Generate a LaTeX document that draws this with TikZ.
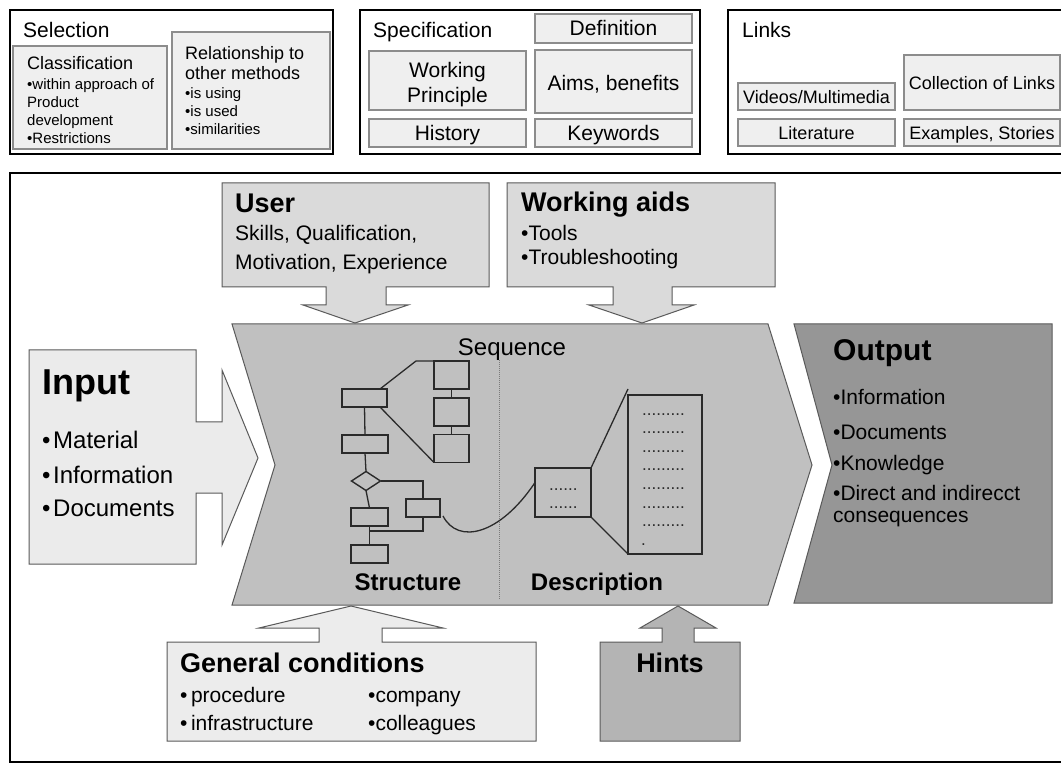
\documentclass[tikz,border=0pt]{standalone}
\usepackage{fontspec}
\setmainfont{Liberation Sans}
\usetikzlibrary{calc,shapes.geometric}
\definecolor{tbfill}{HTML}{EFEFEF}
\definecolor{tbdraw}{HTML}{8C8C8C}
\definecolor{uwfill}{HTML}{DADADA}
\definecolor{chfill}{HTML}{C0C0C0}
\definecolor{outfill}{HTML}{969696}
\definecolor{infill}{HTML}{EBEBEB}
\definecolor{gcfill}{HTML}{ECECEC}
\definecolor{hifill}{HTML}{B4B4B4}
\definecolor{shdraw}{HTML}{5A5A5A}
\definecolor{fcdraw}{HTML}{2A2A2A}
\definecolor{dotgray}{HTML}{7A7A7A}
\newcommand{\fs}[2]{\fontsize{#1}{#2}\selectfont}
\begin{document}
\begin{tikzpicture}[x=1pt,y=-1pt,
  frame/.style={draw=black,line width=2.4pt},
  tbox/.style={draw=tbdraw,fill=tbfill,line width=1.1pt},
  shp/.style={draw=shdraw,line width=1pt,line join=miter},
  fcb/.style={draw=fcdraw,line width=1.4pt,inner sep=0pt,outer sep=0pt},
  fcl/.style={draw=fcdraw,line width=1.3pt},
  lw/.style={inner sep=0pt,anchor=base west},
  lc/.style={inner sep=0pt,anchor=base},
  dots/.style={inner sep=0pt,anchor=base west,font=\fs{17}{18},text=fcdraw}
]
\useasboundingbox (0,0) rectangle (1061,767);
\fill[white] (0,0) rectangle (1061,767);

% ---------------- top frames ----------------
\draw[frame] (10,10) rectangle (333,154);
\draw[frame] (360,10) rectangle (700,154);
\draw[frame] (1064,10) -- (728,10) -- (728,154) -- (1064,154);

% Selection
\node[lw,font=\fs{21}{24}] (tsel) at (23,37.5) {Selection};
\draw[tbox] (13,46) rectangle (167,149);
\draw[tbox] (172,32) rectangle (330,149);
\node[lw,font=\fs{18}{20}] (tcla) at (27,69.5) {Classification};
\node[lw,font=\fs{15}{17}] (tc1) at (27,89.4) {•within approach of};
\node[lw,font=\fs{15}{17}] (tc2) at (27,107.4) {Product};
\node[lw,font=\fs{15}{17}] (tc3) at (27,125.4) {development};
\node[lw,font=\fs{15}{17}] (tc4) at (27,143.4) {•Restrictions};
\node[lw,font=\fs{18}{20}] (trel1) at (185,59.5) {Relationship to};
\node[lw,font=\fs{18}{20}] (trel2) at (185,79.5) {other methods};
\node[lw,font=\fs{15}{17}] (tr1) at (185,98.4) {•is using};
\node[lw,font=\fs{15}{17}] (tr2) at (185,116.4) {•is used};
\node[lw,font=\fs{15}{17}] (tr3) at (185,134.4) {•similarities};

% Specification
\node[lw,font=\fs{21}{24}] (tspec) at (373,37.5) {Specification};
\draw[tbox] (535,14) rectangle (692,43);
\draw[tbox] (369,51) rectangle (526,110);
\draw[tbox] (535,50) rectangle (692,113);
\draw[tbox] (369,119) rectangle (526,147);
\draw[tbox] (535,119) rectangle (692,147);
\node[lc,font=\fs{21}{24}] (tdef) at (613.5,36) {Definition};
\node[lc,font=\fs{21}{24}] (twp1) at (447.5,77.5) {Working};
\node[lc,font=\fs{21}{24}] (twp2) at (447.5,102.5) {Principle};
\node[lc,font=\fs{21}{24}] (taim) at (613.5,90.5) {Aims, benefits};
\node[lc,font=\fs{21}{24}] (this) at (447.5,140.5) {History};
\node[lc,font=\fs{21}{24}] (tkey) at (613.5,140.5) {Keywords};

% Links
\node[lw,font=\fs{21}{24}] (tlinks) at (742,37.5) {Links};
\draw[tbox] (738,83) rectangle (895,110);
\draw[tbox] (904,55) rectangle (1060,110);
\draw[tbox] (738,119) rectangle (895,146);
\draw[tbox] (904,119) rectangle (1060,146);
\node[lc,font=\fs{18}{20}] (tvid) at (816.5,103.5) {Videos/Multimedia};
\node[lc,font=\fs{18}{20}] (tcol) at (982,89.5) {Collection of Links};
\node[lc,font=\fs{18}{20}] (tlit) at (816.5,139.5) {Literature};
\node[lc,font=\fs{18}{20}] (tex) at (982,139.5) {Examples, Stories};

% ---------------- main frame ----------------
\draw[frame] (1064,173) -- (10,173) -- (10,762) -- (1064,762);

% User
\draw[shp,fill=uwfill] (222,183) -- (489,183) -- (489,287) -- (386,287) -- (386,305) -- (408,305)
  -- (355,323) -- (303,305) -- (326,305) -- (326,287) -- (222,287) -- cycle;
\node[lw,font=\bfseries\fs{27}{30}] (tuser) at (235,212.5) {User};
\node[lw,font=\fs{21}{24}] (tu1) at (235,240.5) {Skills, Qualification,};
\node[lw,font=\fs{21}{24}] (tu2) at (235,269.5) {Motivation, Experience};

% Working aids
\draw[shp,fill=uwfill] (507,183) -- (775,183) -- (775,287) -- (672,287) -- (672,305) -- (694,305)
  -- (642,323) -- (589,305) -- (613,305) -- (613,287) -- (507,287) -- cycle;
\node[lw,font=\bfseries\fs{27}{30}] (twa) at (521,211.5) {Working aids};
\node[lw,font=\fs{21}{24}] (tw1) at (521,240.5) {•Tools};
\node[lw,font=\fs{21}{24}] (tw2) at (521,264.5) {•Troubleshooting};

% Central chevron
\draw[shp,fill=chfill] (232,324) -- (768,324) -- (812,465) -- (768,605) -- (232,605) -- (275,465) -- cycle;

% Output
\draw[shp,fill=outfill] (794,324) -- (1052,324) -- (1052,603) -- (794,603) -- (832,465) -- cycle;
\node[lw,font=\bfseries\fs{30}{33}] (tout) at (833,361) {Output};
\node[lw,font=\fs{21}{24}] (to1) at (833,405) {•Information};
\node[lw,font=\fs{21}{24}] (to2) at (833,439) {•Documents};
\node[lw,font=\fs{21}{24}] (to3) at (833,470) {•Knowledge};
\node[lw,font=\fs{21}{24}] (to4) at (833,500.5) {•Direct and indirecct};
\node[lw,font=\fs{21}{24}] (to5) at (833,522) {consequences};

% Input
\draw[shp,fill=infill] (29,350) -- (196,350) -- (196,422) -- (222,422) -- (222,370) -- (258,458)
  -- (222,545) -- (222,493) -- (196,493) -- (196,564) -- (29,564) -- cycle;
\node[lw,font=\bfseries\fs{36}{40}] (tin) at (42,395) {Input};
\node[lw,font=\fs{24}{28}] (ti1) at (42,448.5) {•\hspace{2.6pt}Material};
\node[lw,font=\fs{24}{28}] (ti2) at (42,483.5) {•\hspace{2.6pt}Information};
\node[lw,font=\fs{24}{28}] (ti3) at (42,516.5) {•\hspace{2.6pt}Documents};

% General conditions
\draw[shp,fill=gcfill] (167,642) -- (319,642) -- (319,628) -- (259,628) -- (351,606) -- (443,628)
  -- (382,628) -- (382,642) -- (536,642) -- (536,741) -- (167,741) -- cycle;
\node[lw,font=\bfseries\fs{27}{30}] (tgc) at (180,672.7) {General conditions};
\node[lw,font=\fs{21}{24}] (tg1) at (180,702.5) {•\hspace{3.5pt}procedure};
\node[lw,font=\fs{21}{24}] (tg2) at (180,730.5) {•\hspace{3.5pt}infrastructure};
\node[lw,font=\fs{21}{24}] (tg3) at (368,702.5) {•company};
\node[lw,font=\fs{21}{24}] (tg4) at (368,730.5) {•colleagues};

% Hints
\draw[shp,fill=hifill] (600,642) -- (662,642) -- (662,628) -- (640,628) -- (678,606) -- (716,628)
  -- (694,628) -- (694,642) -- (740,642) -- (740,741) -- (600,741) -- cycle;
\node[lc,font=\bfseries\fs{27}{30}] (thints) at (670,672.7) {Hints};

% Inside chevron
\node[lc,font=\fs{24}{28}] (tseq) at (512,355.6) {Sequence};
\draw[dotgray,line width=0.8pt,dash pattern=on 1pt off 1pt] (499,360) -- (499,600);
\node[lc,font=\bfseries\fs{24}{28}] (tstr) at (408,590.6) {Structure};
\node[lc,font=\bfseries\fs{24}{28}] (tdes) at (597,590.6) {Description};

% flowchart
\node[fcb,minimum width=45pt,minimum height=18pt] (A) at (364.5,398) {};
\node[fcb,minimum width=35pt,minimum height=28pt] (B1) at (451.5,375) {};
\node[fcb,minimum width=35pt,minimum height=28pt] (B2) at (451.5,412) {};
\node[fcb,minimum width=35pt,minimum height=28pt] (B3) at (451.5,448.5) {};
\node[fcb,minimum width=46pt,minimum height=18pt] (C) at (365,444) {};
\node[fcb,shape=diamond,minimum width=29pt,minimum height=19pt] (D) at (366,481) {};
\node[fcb,minimum width=34pt,minimum height=18pt] (E) at (423,508) {};
\node[fcb,minimum width=37pt,minimum height=18pt] (F) at (369.5,517) {};
\node[fcb,minimum width=37pt,minimum height=18pt] (G) at (369.5,554) {};
\node[fcb,minimum width=56pt,minimum height=49pt] (H) at (563,492.5) {};
\node[fcb,minimum width=74pt,minimum height=159pt] (I) at (665,474.5) {};

\draw[fcl] ([xshift=-7pt]A.north east) -- ([xshift=-18pt]B1.north west) -- (B1.north west);
\draw[fcl] ([xshift=-7pt]A.south east) -- (B3.south west);
\draw[fcl] (B1.south) -- (B2.north);
\draw[fcl] (B2.south) -- (B3.north);
\draw[fcl] (A.south) -- (C.north);
\draw[fcl] (C.south) -- (D.north);
\draw[fcl] (D.east) -| (E.north);
\draw[fcl] (D.south) -- (F.north);
\draw[fcl] (F.south) -- (G.north);
\draw[fcl] (E.south) |- ($(F.south)!0.26!(G.north)$);
\draw[fcl] ([xshift=3pt,yshift=-8pt]E.east) .. controls (458,545) and (500,535) .. ([yshift=10pt]H.west);
\draw[fcl] (H.north east) -- ([yshift=6pt]I.north west);
\draw[fcl] (H.south east) -- (I.south west);

% dotted text
\node[dots] (dh1) at (549,490) {......};
\node[dots] (dh2) at (549,508) {......};
\foreach \k/\yy in {1/416,2/434,3/453,4/471,5/489,6/508,7/526}{
  \node[dots] (di\k) at (642,\yy) {.........};
}
\node[dots] (di8) at (641,545) {.};
\end{tikzpicture}
\end{document}
